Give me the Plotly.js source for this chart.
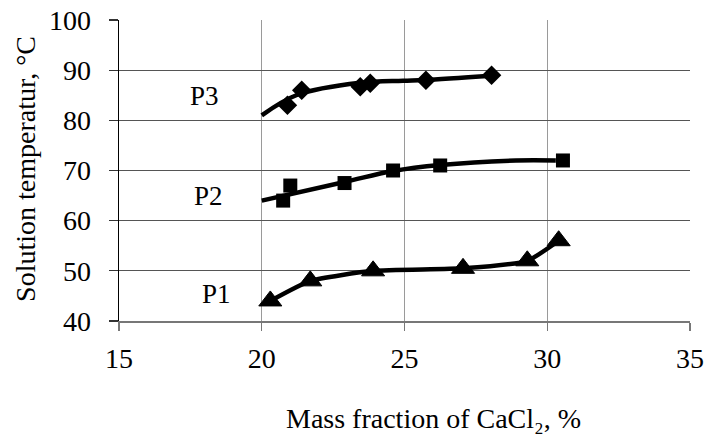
<!DOCTYPE html>
<html>
<head>
<meta charset="utf-8">
<script src="https://cdn.plot.ly/plotly-3.0.1.min.js"></script>
<style>html,body{margin:0;padding:0;background:#fff;}#chart{width:704px;height:437px;}</style>
</head>
<body>
<div id="chart"></div>
<script>
// Data
const p1X = [20.3, 21.7, 23.9, 27.05, 29.3, 30.4];
const p1Y = [44, 48, 50, 50.5, 52, 56];
const p2X = [20.75, 21.0, 22.9, 24.6, 26.25, 30.55];
const p2Y = [64, 67, 67.5, 70, 71, 72];
const p3X = [20.9, 21.4, 23.45, 23.8, 25.75, 28.05];
const p3Y = [83, 86, 86.7, 87.4, 88, 89];
// Trend curves
const p2TrendX = [20, 22.9, 24.6, 26.25, 28.9, 30.3];
const p2TrendY = [64, 67.7, 69.9, 71.1, 72.0, 72.0];
const p3TrendX = [20, 21.25, 23.45, 24.95, 25.7, 28.05];
const p3TrendY = [81, 85.1, 87.5, 87.9, 88.05, 88.9];
const seriesLabels = ['P1', 'P2', 'P3'];
const xTicks = [15, 20, 25, 30, 35];
const yTicks = [40, 50, 60, 70, 80, 90, 100];

const FONT = "Liberation Serif, Times New Roman, serif";
const lineStyle = {color: '#000', width: 4.5, shape: 'spline'};

const traces = [
  {x: p3TrendX, y: p3TrendY, mode: 'lines', line: lineStyle, hoverinfo: 'skip'},
  {x: p3X, y: p3Y, mode: 'markers', marker: {symbol: 'diamond', size: 15, color: '#000'}},
  {x: p2TrendX, y: p2TrendY, mode: 'lines', line: lineStyle, hoverinfo: 'skip'},
  {x: p2X, y: p2Y, mode: 'markers', marker: {symbol: 'square', size: 14, color: '#000'}},
  {x: p1X, y: p1Y, mode: 'lines+markers', line: {color: '#000', width: 4.5, shape: 'spline', smoothing: 0.5},
   marker: {symbol: 'triangle-up', size: 20, color: '#000', line: {color: '#000', width: 1}}}
];

const layout = {
  width: 704, height: 437,
  margin: {l: 119, r: 14, t: 20, b: 116},
  showlegend: false,
  paper_bgcolor: '#fff', plot_bgcolor: '#fff',
  font: {family: FONT, size: 28, color: '#000'},
  xaxis: {
    range: [15, 35], tickvals: xTicks, ticktext: xTicks.map(String),
    showgrid: true, gridcolor: '#9a9a9a', gridwidth: 1.3,
    zeroline: false, showline: true, linecolor: '#777', linewidth: 1.5,
    ticks: 'outside', ticklen: 8, tickcolor: '#777', tickwidth: 1.3,
    tickfont: {family: FONT, size: 28, color: '#000'},
    ticklabelstandoff: 4
  },
  yaxis: {
    range: [40, 100], tickvals: yTicks, ticktext: yTicks.map(String),
    showgrid: true, gridcolor: '#555', gridwidth: 1.3,
    zeroline: false, showline: true, linecolor: '#000', linewidth: 1.5,
    ticks: 'outside', ticklen: 9, tickcolor: '#333', tickwidth: 1.3,
    tickfont: {family: FONT, size: 28, color: '#000'},
    ticklabelstandoff: 12
  },
  annotations: [
    {xref: 'x', yref: 'y', x: 18.0, y: 84.85, text: seriesLabels[2], showarrow: false, font: {family: FONT, size: 27}},
    {xref: 'x', yref: 'y', x: 18.12, y: 64.9, text: seriesLabels[1], showarrow: false, font: {family: FONT, size: 27}},
    {xref: 'x', yref: 'y', x: 18.43, y: 45.4, text: seriesLabels[0], showarrow: false, font: {family: FONT, size: 27}},
    {xref: 'paper', yref: 'paper', x: 0.55, y: -0.325, xanchor: 'center', yanchor: 'middle',
     text: 'Mass fraction of CaCl₂, %', showarrow: false, font: {family: FONT, size: 28}},
    {xref: 'paper', yref: 'paper', x: -0.163, y: 0.505, xanchor: 'center', yanchor: 'middle', textangle: -90,
     text: 'Solution temperatur, °C', showarrow: false, font: {family: FONT, size: 28}}
  ]
};

Plotly.newPlot('chart', traces, layout, {staticPlot: true, displayModeBar: false});
</script>
</body>
</html>
